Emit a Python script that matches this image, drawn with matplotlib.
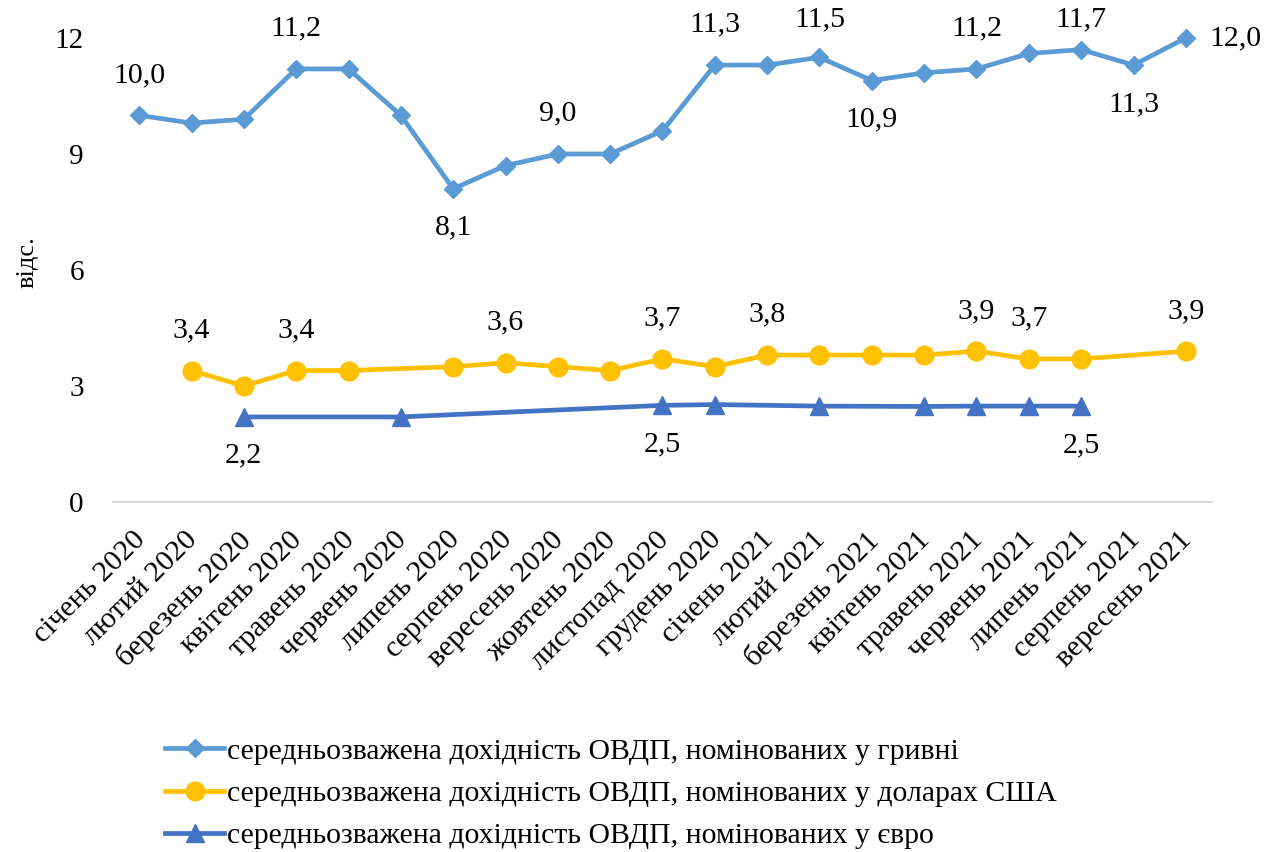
import numpy as np
import matplotlib
matplotlib.use("Agg")
import matplotlib.pyplot as plt
from matplotlib.transforms import ScaledTranslation

plt.rcParams['font.family'] = ['Liberation Serif', 'DejaVu Serif']

months = ["січень 2020", "лютий 2020", "березень 2020", "квітень 2020", "травень 2020",
          "червень 2020", "липень 2020", "серпень 2020", "вересень 2020", "жовтень 2020",
          "листопад 2020", "грудень 2020", "січень 2021", "лютий 2021", "березень 2021",
          "квітень 2021", "травень 2021", "червень 2021", "липень 2021", "серпень 2021",
          "вересень 2021"]

nan = np.nan
uah = [10.0, 9.8, 9.9, 11.2, 11.2, 10.0, 8.1, 8.7, 9.0, 9.0, 9.6, 11.3, 11.3, 11.5,
       10.9, 11.1, 11.2, 11.6, 11.7, 11.3, 12.0]
usd = [nan, 3.4, 3.0, 3.4, 3.4, nan, 3.5, 3.6, 3.5, 3.4, 3.7, 3.5, 3.8, 3.8, 3.8,
       3.8, 3.9, 3.7, 3.7, nan, 3.9]
eur = [nan, nan, 2.2, nan, nan, 2.2, nan, nan, nan, nan, 2.5, 2.52, nan, 2.48, nan,
       2.47, 2.48, 2.48, 2.48, nan, nan]

# which points get a value label: index -> "above" / "below" / "right"
uah_labels = {0: "above", 3: "above", 6: "below", 8: "above", 11: "above", 13: "above",
              14: "below", 16: "above", 18: "above", 19: "below", 20: "right"}
usd_labels = {1: "above", 3: "above", 7: "above", 10: "above", 12: "above",
              16: "above", 17: "above", 20: "above"}
eur_labels = {2: "below", 10: "below", 18: "below"}

names = ["середньозважена дохідність ОВДП, номінованих у гривні",
         "середньозважена дохідність ОВДП, номінованих у доларах США",
         "середньозважена дохідність ОВДП, номінованих у євро"]

fig = plt.figure(figsize=(12.73, 8.52), dpi=100)
ax = fig.add_axes([113 / 1273, 1 - 502 / 852, 1099 / 1273, 464 / 852])

x = np.arange(len(months))
ymax = 12
pt_per_unit = (464 / ymax) * 72 / 100  # points per y unit


def draw(vals, color, marker, ms, name, labels):
    v = np.array(vals, dtype=float)
    m = ~np.isnan(v)
    ax.plot(x[m], v[m], color=color, lw=3.4, marker=marker, ms=ms, label=name,
            solid_joinstyle="round", clip_on=False, zorder=3)
    for i, pos in labels.items():
        txt = f"{v[i]:.1f}".replace(".", ",")
        if pos == "above":
            # keep labels inside the chart area, like Excel does
            dy = min(29, (ymax + 0.47 - v[i]) * pt_per_unit)
            off, ha = (0, dy), "center"
        elif pos == "below":
            off, ha = (0, -28), "center"
        else:
            off, ha = (17, 0), "left"
        ax.annotate(txt, (x[i], v[i]), xytext=off, textcoords="offset points",
                    ha=ha, va="center", fontsize=21.5)


draw(uah, "#5b9bd5", "D", 9, names[0], uah_labels)
draw(usd, "#ffc000", "o", 13.5, names[1], usd_labels)
draw(eur, "#4472c4", "^", 13, names[2], eur_labels)

ax.set_xlim(-0.5, 20.5)
ax.set_ylim(0, ymax)
ax.set_yticks([0, 3, 6, 9, 12])
ax.set_xticks(x)
ax.tick_params(axis="both", length=0)
ax.tick_params(axis="y", pad=21, labelsize=21)
ax.tick_params(axis="x", pad=22)
ax.set_xticklabels(months, rotation=45, ha="right", va="top", rotation_mode="anchor",
                   fontsize=21.5)
shift = ScaledTranslation(-7 / 100, 6 / 100, fig.dpi_scale_trans)
for lab in ax.get_xticklabels():
    lab.set_transform(lab.get_transform() + shift)
for s in ["top", "right", "left"]:
    ax.spines[s].set_visible(False)
ax.spines["bottom"].set_color("#d9d9d9")
ax.spines["bottom"].set_linewidth(1.5)
ax.set_ylabel("відс.", fontsize=19)
ax.yaxis.set_label_coords(38 / 1273, 1 - 262 / 852, transform=fig.transFigure)

fig.legend(loc="upper left", bbox_to_anchor=(153 / 1273, 1 - 726 / 852), frameon=False,
           fontsize=21.4, handlelength=2.0, handletextpad=0.1, labelspacing=0.52,
           borderaxespad=0)

fig.savefig("out.png", dpi=100)
